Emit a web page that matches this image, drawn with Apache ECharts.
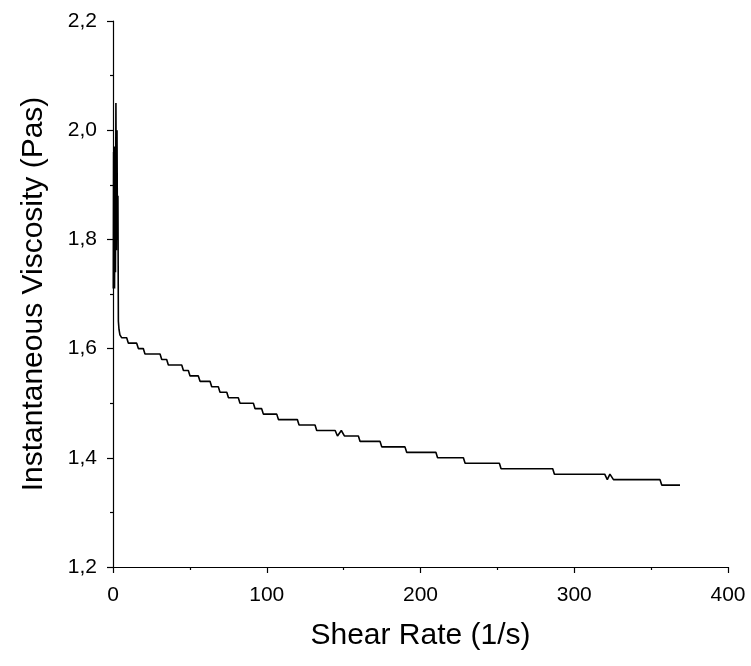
<!DOCTYPE html>
<html>
<head>
<meta charset="utf-8">
<script src="https://cdn.jsdelivr.net/npm/echarts@6/dist/echarts.min.js"></script>
<style>html,body{margin:0;padding:0;background:#fff}#c{width:751px;height:666px}</style>
</head>
<body>
<div id="c"></div>
<script>
const xTicks = [0, 100, 200, 300, 400];
const yTicks = [1.2, 1.4, 1.6, 1.8, 2.0, 2.2];

const shearRate = [0.2,0.4,0.6,0.8,1.0,1.3,1.6,1.9,2.2,2.6,2.9,3.2,3.5,3.9,4.5,5.6,
  8.9,10.0,15.4,16.5,19.7,20.8,30.6,31.7,34.9,36.0,44.7,45.8,49.0,50.1,55.5,56.6,
  63.1,64.2,68.5,69.6,74.0,75.1,81.5,82.6,91.3,92.4,96.7,97.8,106.5,107.6,119.9,121.0,
  131.4,132.5,144.5,146.0,148.5,150.5,159.6,160.7,173.7,174.8,189.9,191.0,210.0,211.1,
  227.9,229.0,251.3,252.4,286.0,287.1,319.8,321.5,323.2,325.5,355.8,356.9,368.8];
const viscosity = [1.71,1.96,1.72,1.97,1.71,1.93,1.74,2.05,1.78,2.00,1.80,1.88,1.65,1.635,1.625,1.62,
  1.62,1.61,1.61,1.60,1.60,1.59,1.59,1.58,1.58,1.57,1.57,1.56,1.56,1.55,1.55,1.54,
  1.54,1.53,1.53,1.52,1.52,1.51,1.51,1.50,1.50,1.49,1.49,1.48,1.48,1.47,1.47,1.46,
  1.46,1.45,1.45,1.44,1.45,1.44,1.44,1.43,1.43,1.42,1.42,1.41,1.41,1.40,
  1.40,1.39,1.39,1.38,1.38,1.37,1.37,1.36,1.37,1.36,1.36,1.35,1.35];

const data = shearRate.map((x, i) => [x, viscosity[i]]);
const font = 'Liberation Sans, Arial, sans-serif';

const chart = echarts.init(document.getElementById('c'));
chart.setOption({
  animation: false,
  backgroundColor: '#fff',
  grid: { left: 113, right: 23, top: 21, bottom: 99 },
  xAxis: {
    type: 'value', min: xTicks[0], max: xTicks[xTicks.length - 1], interval: 100,
    name: 'Shear Rate (1/s)', nameLocation: 'middle', nameGap: 54,
    nameTextStyle: { fontFamily: font, fontSize: 30, color: '#000' },
    axisLine: { show: true, onZero: false, lineStyle: { color: '#000', width: 1.2 } },
    axisTick: { show: true, inside: false, length: 6, lineStyle: { color: '#000', width: 1.2 } },
    minorTick: { show: true, splitNumber: 2, length: 3, lineStyle: { color: '#000', width: 1.2 } },
    axisLabel: { fontFamily: font, fontSize: 21, color: '#000', margin: 18 },
    splitLine: { show: false }
  },
  yAxis: {
    type: 'value', min: yTicks[0], max: yTicks[yTicks.length - 1], interval: 0.2,
    name: 'Instantaneous Viscosity (Pas)', nameLocation: 'middle', nameGap: 64,
    nameTextStyle: { fontFamily: font, fontSize: 30, color: '#000' },
    axisLine: { show: true, onZero: false, lineStyle: { color: '#000', width: 1.2 } },
    axisTick: { show: true, inside: false, length: 6, lineStyle: { color: '#000', width: 1.2 } },
    minorTick: { show: true, splitNumber: 2, length: 3, lineStyle: { color: '#000', width: 1.2 } },
    axisLabel: { fontFamily: font, fontSize: 21, color: '#000', margin: 16,
      formatter: v => v.toFixed(1).replace('.', ',') },
    splitLine: { show: false }
  },
  series: [{
    type: 'line', data: data, showSymbol: false, symbol: 'none',
    lineStyle: { color: '#000', width: 1.6 }
  }]
});
</script>
</body>
</html>
